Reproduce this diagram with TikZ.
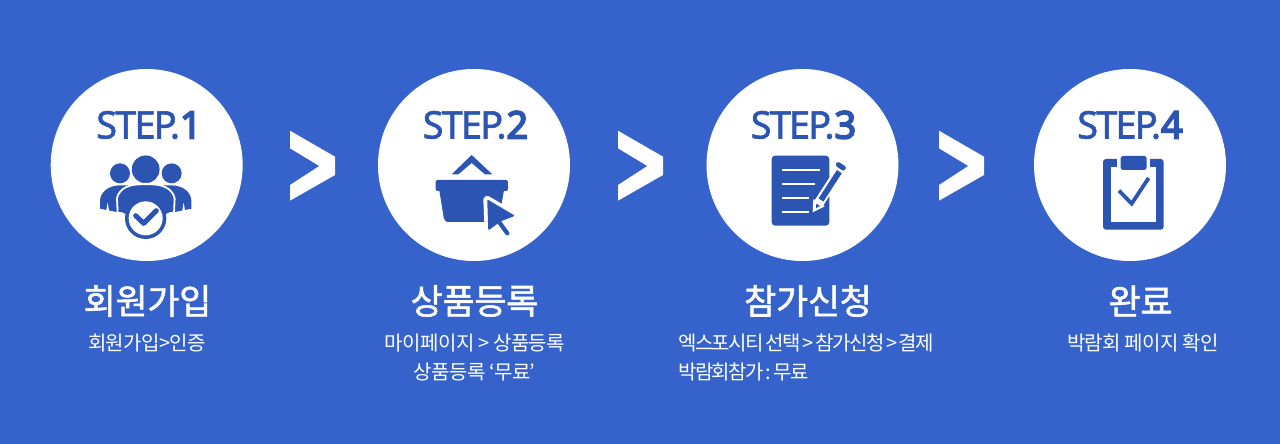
\documentclass[tikz,border=0pt]{standalone}
\usepackage{fontspec}
\newfontfamily\krsub[LetterSpace=-3]{Noto Sans CJK KR}
\newfontfamily\krsubtight[LetterSpace=-7.6,WordSpace=0.55]{Noto Sans CJK KR}
\newfontfamily\krtitle[FakeBold=1.5,LetterSpace=-1]{Noto Sans CJK KR}
\newfontfamily\stepfont[LetterSpace=-5,FakeBold=1.5]{Noto Sans}
\newfontfamily\stepdigit[FakeBold=4.5]{Noto Sans}
\definecolor{bgblue}{RGB}{53,98,203}
\definecolor{inkblue}{RGB}{44,84,178}
\tikzset{
  disc/.style={circle,fill=white,draw=none,minimum size=192pt,inner sep=0pt},
  steplabel/.style={text=inkblue,inner sep=0pt,font=\fontsize{38}{38}\selectfont\stepfont},
  titlelabel/.style={text=white,inner sep=0pt,font=\fontsize{35}{35}\selectfont\krtitle},
  sublabel/.style={text=white,inner sep=0pt,font=\fontsize{20}{20}\selectfont\krsub},
  sublabeltight/.style={text=white,inner sep=0pt,font=\fontsize{20}{20}\selectfont\krsubtight},
  chevron/.style={fill=white,draw=none},
  ink/.style={fill=inkblue,draw=none},
  halo/.style={draw=white,line join=round,line cap=round},
  inkline/.style={draw=inkblue,line join=round,line cap=round},
  paper/.style={draw=white,line cap=butt}
}
\begin{document}
\begin{tikzpicture}[x=1pt,y=-1pt]
\fill[bgblue] (0,0) rectangle (1280,444);
\useasboundingbox (0,0) rectangle (1280,444);
% discs
\node[disc] (d1) at (146.7,165) {};
\node[disc] (d2) at (474,165) {};
\node[disc] (d3) at (802.5,165) {};
\node[disc] (d4) at (1130,165) {};
% step labels
\node[steplabel] (s1) at (149,125) {STEP.{\stepdigit 1}};
\node[steplabel] (s2) at (475.5,125) {STEP.{\stepdigit 2}};
\node[steplabel] (s3) at (803.5,125) {STEP.{\stepdigit 3}};
\node[steplabel] (s4) at (1130,125) {STEP.{\stepdigit 4}};
% chevrons
\foreach \cx in {290,618,939}{
  \fill[chevron] (\cx,130.7) -- (\cx+45,156.7) -- (\cx+45,175) -- (\cx,200.7) -- (\cx,185) -- (\cx+29.3,166) -- (\cx,148.3) -- cycle;
}
% icon 1: people
\begin{scope}[shift={(95,150)},scale=0.3333]
  \fill[ink] (75,70) circle (30);
  \fill[ink] (230,70) circle (30);
  \fill[ink] (15,176) -- (15,150) .. controls (18,125) and (40,108) .. (72,106) -- (232,106) .. controls (265,108) and (286,125) .. (289,150) -- (289,176) -- (240,186) -- (65,186) -- cycle;
  \fill[white] (33,186) -- (38,158) -- (43,186) -- cycle;
  \fill[white] (261,186) -- (266,158) -- (271,186) -- cycle;
  \fill[ink] (152,58) circle (42);
  \draw[draw=white,line width=1.6pt] (152,58) circle (45);
  \fill[ink] (70,182) -- (70,145) .. controls (75,120) and (105,106) .. (152,106) .. controls (200,106) and (230,120) .. (235,145) -- (235,182) -- (205,195) -- (100,195) -- cycle;
  \draw[draw=white,line width=1.8pt] (68,190) -- (66,145) .. controls (72,114) and (105,101) .. (152,101) .. controls (200,101) and (232,114) .. (239,145) -- (237,190);
  \fill[white] (60,186) rectangle (75,195);
  \fill[white] (230,186) rectangle (245,195);
  \fill[ink] (152,205) circle (62);
  \fill[white] (152,205) circle (51);
  \draw[inkline,line width=5pt] (122,197) -- (146,220) -- (184,182);
\end{scope}
% icon 2: basket
\begin{scope}[shift={(370,60)},scale=0.3333]
  \fill[ink] (305,285) -- (367,343) -- (345,343) -- (305,309) -- (265,343) -- (245,343) -- cycle;
  \fill[ink,rounded corners=2pt] (197,360) rectangle (414,393);
  \fill[ink] (207,385) -- (403,385) -- (385,486) -- (236,486) .. controls (226,486) and (222,480) .. (221,472) -- cycle;
\end{scope}
\begin{scope}[shift={(470,185)},scale=0.3333]
  \draw[halo,fill=white,line width=8pt] (52,45) -- (132,92) -- (92,108) -- (56,135) -- cycle;
  \draw[inkline,fill=inkblue,line width=1.5pt] (54,47) -- (130,92) -- (93,106) -- (57,132) -- cycle;
  \draw[inkline,line width=4.2pt] (85,108) -- (112,145);
\end{scope}
% icon 3: form
\begin{scope}[shift={(700,60)},scale=0.3333]
  \fill[ink,rounded corners=3.5pt] (215,287) rectangle (388,497);
  \draw[paper,line width=2pt] (245,330) -- (360,330);
  \draw[paper,line width=2pt] (245,372) -- (345,372);
  \draw[paper,line width=2pt] (245,413) -- (328,413);
  \draw[paper,line width=2pt] (245,455) -- (328,455);
\end{scope}
\begin{scope}[shift={(790,155)},scale=0.3333]
  \draw[paper,line width=10pt] (84,148) -- (154,40);
  \draw[draw=inkblue,line width=5.8pt] (93,135) -- (148,50);
  \fill[white] (68,172) -- (70,132) -- (104,154) -- cycle;
  \fill[ink] (78,160) -- (79,146) -- (90,153) -- cycle;
  \draw[inkline,line width=5pt] (145,29) -- (160,39);
\end{scope}
% icon 4: clipboard
\begin{scope}[shift={(1030,60)},scale=0.3333]
  \fill[ink,rounded corners=3pt] (219,297) rectangle (401,509);
  \fill[white] (243,320) rectangle (378,485);
  \fill[white] (262,290) rectangle (360,325);
  \fill[ink,rounded corners=2.5pt] (272,288) rectangle (350,330);
  \draw[draw=inkblue,line width=3.8pt,line join=miter] (267,392) -- (305,431) -- (356,354);
\end{scope}
% titles
\node[titlelabel] (t1) at (147.5,301) {회원가입};
\node[titlelabel] (t2) at (474.5,301) {상품등록};
\node[titlelabel] (t3) at (808,301) {참가신청};
\node[titlelabel] (t4) at (1140.5,301) {완료};
% captions
\node[sublabel] (c1) at (147,343) {회원가입>인증};
\node[sublabel] (c2a) at (475,343) {마이페이지 > 상품등록};
\node[sublabel] (c2b) at (474.5,372) {상품등록 ‘무료’};
\node[sublabeltight,anchor=west] (c3a) at (678,343) {엑스포시티 선택 > 참가신청 > 결제};
\node[sublabeltight,anchor=west] (c3b) at (678,372) {박람회참가 : 무료};
\node[sublabel] (c4) at (1143,343) {박람회 페이지 확인};
\end{tikzpicture}
\end{document}
